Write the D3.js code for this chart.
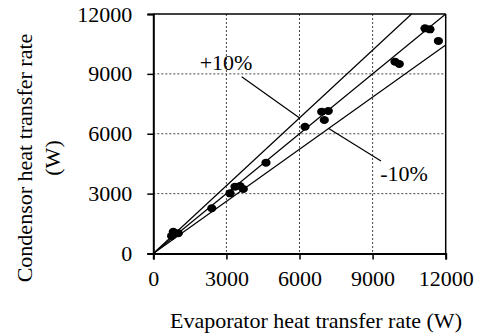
<!DOCTYPE html>
<html lang="en">
<head>
<meta charset="UTF-8">
<script src="https://d3js.org/d3.v7.min.js"></script>
<style>
  body { margin: 0; background: #fff; }
  svg text { font-family: 'Liberation Serif', 'Times New Roman', serif; fill: #000; }
</style>
</head>
<body>
<svg id="chart" width="483" height="334"></svg>
<script>
// ---- data ----
const evaporator = [820, 1026, 751, 2400, 3148, 3353, 3558, 3694, 4625, 6226, 6911, 7182, 7018, 9919, 10096, 11150, 11355, 11700];
const condensor  = [1090, 1013, 878, 2265, 3016, 3347, 3382, 3232, 4550, 6353, 7105, 7140, 6689, 9610, 9495, 11283, 11233, 10650];
const tickValues = [0, 3000, 6000, 9000, 12000];

// bound lines from origin to where they leave the plot
const boundEnds = [[12000, 12000], [10600, 12000], [12000, 10450]];
// leader lines and their labels
const leaderLines = [[[3628, 8858], [6020, 6774]], [[7182, 6273], [9345, 4635]]];
const leaderLabels = ["+10%", "-10%"];
const labelPos = [[2984, 9194], [10289, 3633]];

// ---- layout ----
const W = 483, H = 334;
const margin = { top: 14, right: 37.3, bottom: 80.5, left: 153.3 };
const iw = W - margin.left - margin.right;
const ih = H - margin.top - margin.bottom;

const svg = d3.select("#chart");
const g = svg.append("g").attr("transform", `translate(${margin.left},${margin.top})`);

const x = d3.scaleLinear().domain([0, 12000]).range([0, iw]);
const y = d3.scaleLinear().domain([0, 12000]).range([ih, 0]);

// dashed grid
const inner = tickValues.slice(1, -1);
g.selectAll(".vgrid").data(inner).join("line")
  .attr("x1", d => x(d)).attr("x2", d => x(d)).attr("y1", 0).attr("y2", ih)
  .attr("stroke", "#444").attr("stroke-width", 1).attr("stroke-dasharray", "2,2");
g.selectAll(".hgrid").data(inner).join("line")
  .attr("y1", d => y(d)).attr("y2", d => y(d)).attr("x1", 0).attr("x2", iw)
  .attr("stroke", "#444").attr("stroke-width", 1).attr("stroke-dasharray", "2,2");

// bound lines (1:1, +10%, -10%)
g.selectAll(".bound").data(boundEnds).join("line")
  .attr("x1", x(0)).attr("y1", y(0))
  .attr("x2", d => x(d[0])).attr("y2", d => y(d[1]))
  .attr("stroke", "#000").attr("stroke-width", 1.2);

// leaders
g.selectAll(".leader").data(leaderLines).join("line")
  .attr("x1", d => x(d[0][0])).attr("y1", d => y(d[0][1]))
  .attr("x2", d => x(d[1][0])).attr("y2", d => y(d[1][1]))
  .attr("stroke", "#000").attr("stroke-width", 1.2);

g.selectAll(".lbl").data(leaderLabels).join("text")
  .attr("x", (d, i) => x(labelPos[i][0])).attr("y", (d, i) => y(labelPos[i][1]))
  .attr("text-anchor", "middle").attr("font-size", 22).text(d => d);

// points
g.selectAll(".pt").data(evaporator).join("ellipse")
  .attr("cx", (d, i) => x(d)).attr("cy", (d, i) => y(condensor[i]))
  .attr("rx", 4.6).attr("ry", 4).attr("fill", "#000");

// frame
g.append("line").attr("x1", 0).attr("x2", iw).attr("y1", 0).attr("y2", 0).attr("stroke", "#000").attr("stroke-width", 1.5);
g.append("line").attr("x1", iw).attr("x2", iw).attr("y1", 0).attr("y2", ih).attr("stroke", "#000").attr("stroke-width", 1.5);

// axes
const xAxis = g.append("g").attr("transform", `translate(0,${ih})`)
  .call(d3.axisBottom(x).tickValues(tickValues).tickSize(6).tickPadding(11).tickFormat(d3.format("d")));
const yAxis = g.append("g")
  .call(d3.axisLeft(y).tickValues(tickValues).tickSize(6).tickPadding(15).tickFormat(d3.format("d")));
[xAxis, yAxis].forEach(a => {
  a.select(".domain").attr("stroke-width", 2).attr("stroke", "#000");
  a.selectAll(".tick line").attr("stroke", "#000").attr("stroke-width", 1.5);
  a.selectAll(".tick text").attr("font-size", 22).attr("font-family", "'Liberation Serif', serif");
});

// axis titles
svg.append("text").attr("x", 316).attr("y", 328)
  .attr("text-anchor", "middle").attr("font-size", 22)
  .text("Evaporator heat transfer rate (W)");
const yt = svg.append("text").attr("transform", "translate(0,158) rotate(-90)")
  .attr("text-anchor", "middle").attr("font-size", 22);
yt.append("tspan").attr("x", 0).attr("y", 32).text("Condensor heat transfer rate");
yt.append("tspan").attr("x", 0).attr("y", 60).text("(W)");
</script>
</body>
</html>
